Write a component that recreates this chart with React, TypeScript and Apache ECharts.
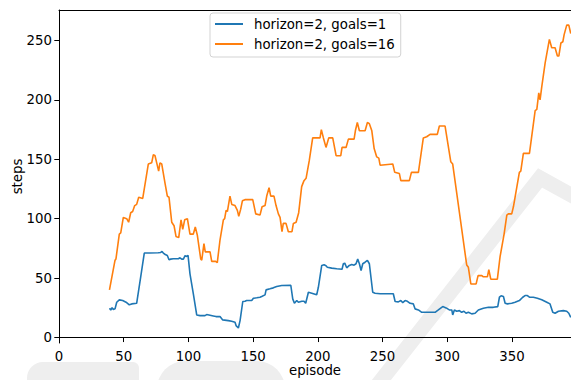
import React, { useEffect, useRef } from "react";
import * as echarts from "echarts";

const orangeX = [39, 43.3, 44, 46.6, 47.7, 49.7, 52.3, 53.8, 55.4, 56.9, 58.5, 60, 61.6, 64.7, 69, 71.6, 72.9, 74.2, 75.5, 77, 78, 79.4, 81.9, 83.7, 85, 87.1, 88.9, 90.4, 92.5, 94.3, 95.6, 97.1, 99.2, 101.2, 103.8, 105.3, 106.9, 109.5, 110.3, 112, 113, 116.7, 118, 121, 122.3, 124.4, 127, 128, 129.1, 130.1, 132.1, 133.5, 136, 137.8, 138.9, 140.4, 141.7, 143.7, 149.7, 152, 155.3, 156.9, 159.2, 160.5, 162.3, 163.6, 166.1, 167.7, 169.5, 170.8, 172.3, 173.3, 175.4, 177.2, 180, 181.1, 183.2, 185.2, 187.5, 189.3, 190.9, 193.4, 196, 199.1, 201.7, 202.7, 204.3, 206.3, 208.4, 211.5, 214.1, 217.7, 218.7, 221.8, 223.6, 228, 229, 230.5, 232.1, 236.5, 238.3, 239.8, 241.7, 243.5, 245.5, 247.1, 248.1, 257.9, 259.4, 263, 264.1, 270.7, 272.3, 277.7, 281.5, 284.1, 286.7, 292.3, 293.9, 298.3, 302.7, 304.2, 315, 316.3, 318.2, 322.3, 323.8, 326.7, 327.9, 331, 332.1, 333.6, 338.7, 340.8, 343.9, 346, 347.2, 349.8, 351.1, 355.7, 356.8, 358.8, 363.5, 367.9, 369.2, 370.7, 371.7, 373, 375.6, 378.9, 380.7, 383.3, 385.1, 386.2, 387.8, 389.3, 390.3, 392.3, 393.9, 395.4];
const orangeY = [40, 65, 66, 87, 88, 101, 100, 97, 105, 106, 111, 112, 118, 117, 146, 147, 154, 153, 147, 140, 147, 146, 130, 119, 118, 97, 94, 85, 84, 99, 91, 99, 100, 87, 87, 93, 86, 66, 65, 79, 72, 72, 64, 64, 63, 82, 99, 100, 107, 106, 119, 112, 111, 107, 102, 108, 115, 116, 116, 104, 103, 110, 111, 119, 126, 119, 119, 111, 104, 101, 89, 96, 96, 89, 89, 96, 97, 105, 127, 132, 134, 149, 168, 168, 168, 175, 168, 160, 168, 168, 153, 153, 160, 160, 167, 167, 174, 181, 174, 174, 181, 180, 174, 159, 152, 151, 145, 146, 139, 138, 132, 132, 139, 139, 168, 169, 171, 171, 178, 178, 148, 146, 61, 59, 45, 45, 52, 52, 51, 51, 57, 49, 49, 68, 87, 103, 104, 104, 110, 139, 140, 155, 155, 191, 192, 206, 200, 211, 231, 251, 244, 244, 237, 237, 248, 249, 255, 263, 263, 256];

const blueX = [39, 40, 41, 42, 43.3, 44.6, 46.6, 49.2, 51.8, 54.3, 56.2, 60, 63.1, 65.9, 70.3, 76.7, 78.6, 79.6, 80.6, 82.1, 83.7, 85, 86.3, 88.3, 92.2, 93.5, 94.8, 96.1, 97.4, 98.7, 99.7, 101.2, 103.8, 106.4, 109, 112.8, 114.1, 116.7, 119.2, 121.3, 124.4, 126.5, 130.8, 133.4, 136, 136.8, 138.6, 139.9, 142, 143.7, 145, 148.9, 150.2, 152.8, 155.3, 156.6, 159.2, 160, 163, 165.6, 168.2, 172.1, 179.1, 180.6, 181.9, 183.7, 185, 187.6, 189.3, 190.6, 192.7, 195.3, 199.1, 200.4, 203, 204.8, 206.3, 207.3, 210.7, 214.6, 218.7, 219.7, 220.8, 222.3, 224.3, 226.2, 228, 229.5, 230.8, 232.1, 233.4, 234.7, 236.5, 238.3, 239.8, 242.4, 244.2, 248.1, 253.2, 258.3, 259.7, 262.2, 264.1, 265.6, 267.4, 269.2, 271.3, 273.8, 275.1, 277.7, 280.3, 284.1, 290.6, 293.1, 296.5, 299.1, 301.6, 303.5, 304.2, 305.5, 307.3, 309.4, 311.1, 312.9, 314.5, 316.3, 318.9, 321.5, 324, 327.9, 331.8, 335.6, 339, 340.3, 341.6, 343.4, 344.7, 346.5, 349.8, 352.4, 355.7, 358.3, 360.1, 361.9, 363.5, 366.5, 369.6, 373, 376.9, 379.4, 381.5, 383.3, 385.9, 389.7, 392.3, 393.9, 395.4];
const blueY = [24.5, 23, 25, 23.5, 24, 29.6, 31.6, 31, 29.6, 27.4, 28.2, 28.7, 50.7, 71, 71, 71.3, 71.5, 72.4, 71, 69.8, 69, 65.4, 65.9, 66.2, 66.2, 67, 65.9, 65.9, 68.8, 68.2, 69, 53.5, 36.7, 18.9, 18.3, 18.3, 19.2, 18.6, 18, 17.5, 17.5, 14.7, 14.1, 13.5, 12.7, 9.9, 7.9, 14.1, 30.2, 30.4, 31, 31, 32.9, 33.3, 33.8, 34.4, 35.8, 40, 40.9, 41.7, 42.8, 43.7, 43.9, 32.4, 28.7, 31, 29.6, 30.4, 30.4, 28.7, 38, 37.2, 35.8, 42.2, 60.6, 61.1, 60.3, 59.1, 58.3, 57.8, 57.4, 62, 62.5, 58.6, 60.6, 61.4, 60.8, 62, 65.9, 62, 56.3, 62, 63.3, 64.8, 62, 38, 37.2, 36.7, 36.7, 36.7, 30.2, 29.9, 31, 29.3, 31, 30.4, 28.7, 28.2, 24, 23.1, 21.1, 21.1, 21.1, 23.1, 25.9, 24.8, 23.1, 23.1, 18.9, 23.1, 22, 22.5, 21.1, 22, 20.3, 21.1, 19.8, 20.3, 23.1, 24.5, 25.3, 25.3, 25.9, 33.8, 35, 34.4, 28.7, 28.2, 28.7, 29.6, 31, 33.8, 35.2, 35.2, 33.8, 33.8, 32.9, 31.6, 29.6, 28.2, 21.1, 20.3, 22, 22.5, 22, 20.3, 16.9];

const xTicks = [0, 50, 100, 150, 200, 250, 300, 350];
const yTicks = [0, 50, 100, 150, 200, 250];
const seriesNames = ["horizon=2, goals=1", "horizon=2, goals=16"];

const FONT = "DejaVu Sans";

export default function App() {
  const ref = useRef<HTMLDivElement>(null);
  useEffect(() => {
    if (!ref.current) return;
    const chart = echarts.init(ref.current, null, { renderer: "svg" });
    const zip = (xs: number[], ys: number[]) => xs.map((x, i) => [x, ys[i]]);
    const wm = "#eeeeee";
    chart.setOption({
      animation: false,
      backgroundColor: "#fff",
      textStyle: { fontFamily: FONT },
      grid: { left: 59, right: 0, top: 10, bottom: 37, outerBoundsMode: "none", containLabel: false },
      graphic: [
        {
          type: "polyline",
          silent: true,
          z: -10,
          shape: { points: [[372, 392], [540, 178], [580, 200]] },
          style: { stroke: wm, lineWidth: 15, fill: null },
        },
        {
          type: "rect",
          silent: true,
          z: -10,
          shape: { x: 27, y: 362, width: 112, height: 40, r: [16, 6, 0, 0] },
          style: { fill: wm },
        },
        {
          type: "rect",
          silent: true,
          z: -10,
          shape: { x: 157, y: 361, width: 128, height: 40, r: [28, 28, 0, 0] },
          style: { fill: wm },
        },
      ],
      legend: {
        left: 210,
        top: 13,
        orient: "vertical",
        icon: "rect",
        itemWidth: 28,
        itemHeight: 2,
        itemGap: 4,
        padding: [3, 6, 5, 5],
        backgroundColor: "rgba(255,255,255,0.8)",
        borderColor: "#d3d3d3",
        borderWidth: 1,
        borderRadius: 3,
        textStyle: { fontFamily: FONT, fontSize: 13.3, color: "#000", lineHeight: 16, padding: [0, 0, 0, 6] },
        data: seriesNames,
      },
      xAxis: [
        {
          type: "value",
          min: 0,
          max: 395.6,
          name: "episode",
          nameLocation: "middle",
          nameGap: 21,
          nameMoveOverlap: false,
          nameTextStyle: { fontFamily: FONT, fontSize: 13.3, color: "#000" },
          axisLine: { show: true, lineStyle: { color: "#000", width: 1 } },
          axisTick: { show: true, length: 4.7, customValues: xTicks, lineStyle: { color: "#000", width: 1 } },
          axisLabel: { customValues: xTicks, fontFamily: FONT, fontSize: 13.3, color: "#000", margin: 7 },
          splitLine: { show: false },
        },
        {
          type: "value",
          position: "top",
          min: 0,
          max: 395.6,
          axisLine: { show: true, lineStyle: { color: "#000", width: 1 } },
          axisTick: { show: false },
          axisLabel: { show: false },
          splitLine: { show: false },
        },
      ],
      yAxis: {
        type: "value",
        min: -4.75,
        max: 275.75,
        name: "steps",
        nameLocation: "middle",
        nameGap: 35,
        nameMoveOverlap: false,
        nameTextStyle: { fontFamily: FONT, fontSize: 13.3, color: "#000" },
        axisLine: { show: true, lineStyle: { color: "#000", width: 1 } },
        axisTick: { show: true, length: 4.7, customValues: yTicks, lineStyle: { color: "#000", width: 1 } },
        axisLabel: { customValues: yTicks, fontFamily: FONT, fontSize: 13.3, color: "#000", margin: 7 },
        splitLine: { show: false },
      },
      series: [
        {
          name: seriesNames[0],
          type: "line",
          data: zip(blueX, blueY),
          showSymbol: false,
          symbol: "none",
          lineStyle: { color: "#1f77b4", width: 1.6 },
          itemStyle: { color: "#1f77b4" },
          z: 3,
        },
        {
          name: seriesNames[1],
          type: "line",
          data: zip(orangeX, orangeY),
          showSymbol: false,
          symbol: "none",
          lineStyle: { color: "#ff7f0e", width: 1.6 },
          itemStyle: { color: "#ff7f0e" },
          z: 3,
        },
      ],
    });
    return () => chart.dispose();
  }, []);
  return <div ref={ref} style={{ position: "absolute", left: 0, top: 0, width: 571, height: 380 }} />;
}
